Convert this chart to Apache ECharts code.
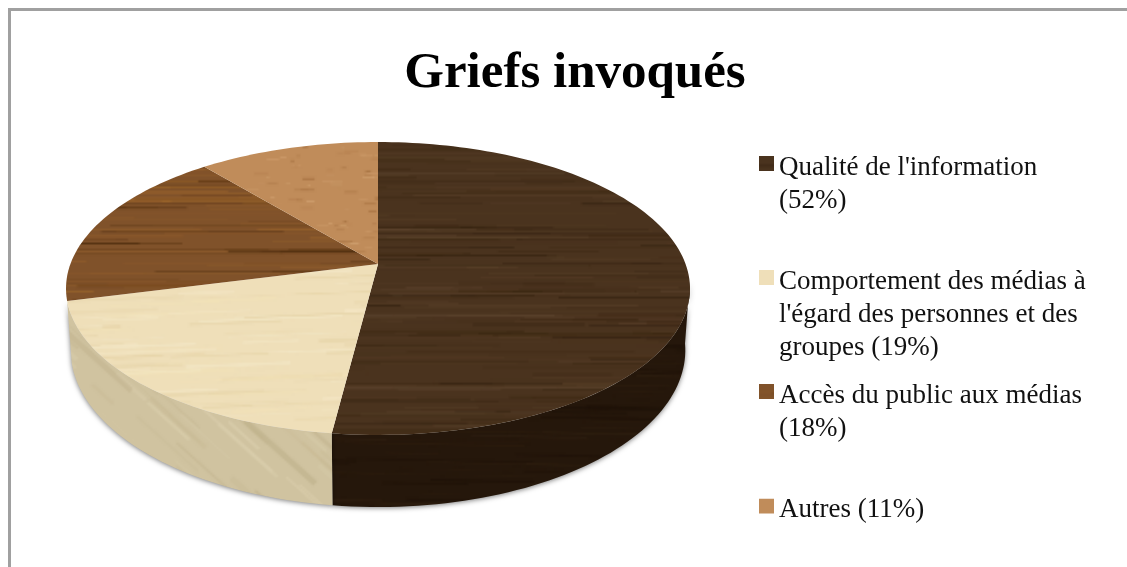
<!DOCTYPE html>
<html>
<head>
<meta charset="utf-8">
<style>
  html, body { margin: 0; padding: 0; background: #fff; }
  #chart-container { width: 1127px; height: 567px; }
</style>
<script src="https://cdn.jsdelivr.net/npm/echarts@6/dist/echarts.min.js"></script>
</head>
<body>
<div id="chart-container"></div>
<script>
const categories = [
  "Qualité de l'information\n(52%)",
  "Comportement des médias à\nl'égard des personnes et des\ngroupes (19%)",
  "Accès du public aux médias\n(18%)",
  "Autres (11%)",
];
const values = [52, 19, 18, 11];

var dom = document.getElementById("chart-container");
var myChart = echarts.init(dom, null, { renderer: "canvas" });

// small seeded generator, only used for the wood grain
let seed = 12345;
function grain() {
  seed = (seed * 1664525 + 1013904223) % 4294967296;
  return seed / 4294967296;
}

function texture(base, shades, count, minLen, maxLen, width, slope, alpha) {
  const c = document.createElement("canvas");
  c.width = 1127;
  c.height = 567;
  const ctx = c.getContext("2d");
  ctx.fillStyle = base;
  ctx.fillRect(0, 0, c.width, c.height);
  for (let i = 0; i < count; i++) {
    const x = grain() * c.width - 60;
    const y = grain() * c.height;
    const len = minLen + grain() * (maxLen - minLen);
    ctx.strokeStyle = shades[Math.floor(grain() * shades.length)];
    ctx.globalAlpha = alpha * (0.4 + grain() * 0.6);
    ctx.lineWidth = 0.6 + grain() * width;
    ctx.beginPath();
    ctx.moveTo(x, y);
    ctx.lineTo(x + len, y + slope * len);
    ctx.stroke();
  }
  // down and up again to soften the strokes
  const small = document.createElement("canvas");
  small.width = c.width / 2;
  small.height = c.height / 2;
  small.getContext("2d").drawImage(c, 0, 0, small.width, small.height);
  ctx.globalAlpha = 1;
  ctx.imageSmoothingEnabled = true;
  ctx.drawImage(small, 0, 0, c.width, c.height);
  return { image: c, repeat: "no-repeat" };
}

const topFills = [
  texture("#4a331e", ["#38250f", "#5a412a", "#2f1e0e", "#604731"], 1500, 60, 320, 1.6, 0, 0.55),
  texture("#efdfb9", ["#f6eaca", "#e6d3a6", "#f3e3b8"], 900, 30, 160, 3, -0.04, 0.6),
  texture("#80522a", ["#5a3410", "#96622d", "#a66d2e", "#4a2a0c"], 1100, 80, 300, 1.6, 0, 0.6),
  texture("#c08c5a", ["#a87444", "#d4a575", "#9c6838"], 4000, 3, 14, 1.6, 0, 0.7),
];
const wallFills = [
  texture("#25170b", ["#2f1f10", "#1c1007", "#342414"], 900, 40, 220, 1.6, 0.02, 0.6),
  texture("#d0c3a0", ["#dfd3b2", "#bcae88", "#c9bb95"], 800, 20, 70, 5, 0.9, 0.55),
  texture("#5f3a18", ["#4a2a0c"], 100, 20, 80, 2, 0, 0.5),
  texture("#9a6a3c", ["#7e5228"], 100, 20, 80, 2, 0, 0.5),
];

// perspective of the disc: centre of the slices sits above the middle of the ellipse
const cx = 378;
const horizonY = -587.6;
const farK = 851.6;
const tilt = 0.1672;
const halfWidth = 307.6;
const depth = 60;
const wallFrom = 0.27;
const wallTo = 0.71;

function project(share) {
  const t = share * 2 * Math.PI;
  const w = 1 + tilt * Math.cos(t);
  return [cx + (halfWidth * Math.sin(t)) / w, horizonY + farK / w, w];
}

function lower(share) {
  const p = project(share);
  return [cx + (p[0] - cx) * 0.985, p[1] + depth / p[2]];
}

function arcShares(from, to) {
  const out = [];
  const steps = Math.max(2, Math.ceil((to - from) * 240));
  for (let i = 0; i <= steps; i++) {
    out.push(from + ((to - from) * i) / steps);
  }
  return out;
}

function renderSlice(idx) {
  return function (params, api) {
    const from = api.value(0);
    const to = api.value(1);
    const children = [];
    const wa = Math.max(from, wallFrom);
    const wb = Math.min(to, wallTo);
    if (wb > wa) {
      const arc = arcShares(wa, wb);
      const pts = arc.map((s) => project(s).slice(0, 2)).concat(arc.slice().reverse().map(lower));
      children.push({
        type: "polygon",
        shape: { points: pts },
        style: {
          fill: wallFills[idx],
          shadowBlur: 5,
          shadowOffsetY: 1,
          shadowColor: "rgba(0,0,0,0.5)",
        },
      });
    }
    const topPts = [[cx, horizonY + farK]].concat(arcShares(from, to).map((s) => project(s).slice(0, 2)));
    children.push({
      type: "polygon",
      shape: { points: topPts },
      style: { fill: topFills[idx] },
    });
    return { type: "group", children };
  };
}

const total = values.reduce((a, b) => a + b, 0);
let running = 0;
const series = categories.map((name, i) => {
  const from = running / total;
  running += values[i];
  return {
    type: "custom",
    name,
    coordinateSystem: "none",
    silent: true,
    itemStyle: { color: topFills[i] },
    renderItem: renderSlice(i),
    data: [[from, running / total]],
  };
});

// one legend per entry, the swatch stays on the first text line.
// the icon path is 8px taller than the square, which lifts the square above the text centre
const legendLine = 33;
const legendLift = 4;
const legendCentres = [163.5, 277.5, 391.5, 506];
const legend = categories.map((name, i) => {
  const lines = name.split("\n").length;
  return {
    data: [name],
    left: 759,
    top: legendCentres[i] + legendLift - ((2 * lines - 1) * legendLine) / 2,
    padding: 0,
    icon: "path://M0 0H15V15H0Z M0 23H0.05V22.95Z",
    itemWidth: 15,
    itemHeight: 23,
    selectedMode: false,
    formatter: (n) => "\n".repeat(lines - 1) + n,
    textStyle: {
      fontFamily: "Liberation Serif",
      fontSize: 27,
      lineHeight: legendLine,
      color: "#111",
    },
  };
});

var option = {
  animation: false,
  backgroundColor: "#fff",
  title: {
    text: "Griefs invoqués",
    left: 570,
    top: 43,
    textAlign: "center",
    textStyle: {
      fontFamily: "Liberation Serif",
      fontSize: 51,
      fontWeight: "bold",
      color: "#000",
    },
  },
  graphic: [
    {
      type: "rect",
      shape: { x: 9.5, y: 9.5, width: 1300, height: 700 },
      style: { fill: "none", stroke: "#a0a0a0", lineWidth: 3 },
      silent: true,
    },
  ],
  legend,
  series,
};

myChart.setOption(option);

window.addEventListener("resize", myChart.resize);
</script>
</body>
</html>
